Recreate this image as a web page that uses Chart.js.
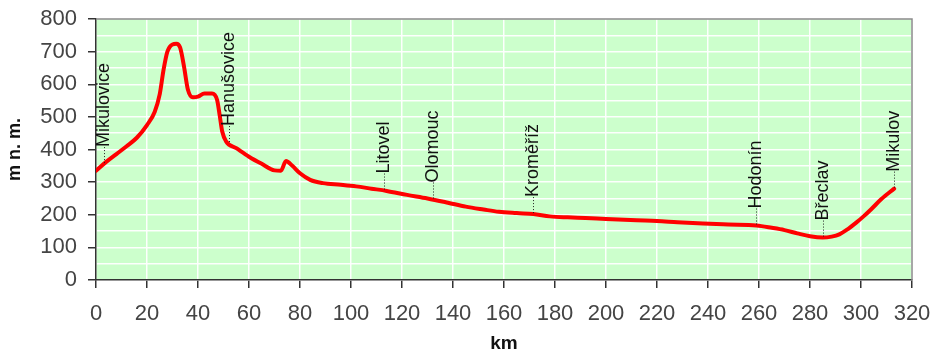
<!DOCTYPE html>
<html>
<head>
<meta charset="utf-8">
<title>Výškový profil</title>
<script src="https://cdn.jsdelivr.net/npm/chart.js@4/dist/chart.umd.min.js"></script>
<style>
  html, body { margin: 0; padding: 0; background: #ffffff; }
  canvas { display: block; }
</style>
</head>
<body>
<canvas id="profile" width="935" height="353"></canvas>
<script>
// Distance along the route (km) and elevation above sea level (m n. m.)
const km = [
  0, 4, 8, 12, 16, 20, 23, 25, 26.5, 28, 30, 31.5, 33, 34.5, 36, 38, 40, 42.5,
  45.5, 47.5, 48.5, 49.5, 51, 55, 60, 65, 70, 72.5, 74.5, 77, 80, 84, 89, 96,
  102, 108, 114, 122, 130, 138, 145, 152, 158, 165, 171.5, 178, 185, 192, 200,
  212, 220, 228, 238, 248, 259, 265, 270, 275, 280, 285, 288.5, 291.5, 295,
  298, 301, 304, 308, 313
];
const elevation = [
  335, 362, 386, 410, 436, 475, 515, 570, 645, 700, 722, 724, 712, 655, 585,
  560, 562, 572, 572, 552, 505, 455, 425, 404, 378, 356, 336, 335, 365, 350,
  327, 307, 297, 292, 287, 280, 273, 261, 250, 237, 225, 216, 209, 205, 202,
  195, 192, 190, 187, 183, 181, 177, 173, 170, 167, 160, 153, 143, 134, 130,
  133, 140, 157, 175, 195, 217, 248, 280
];

// Towns along the route and their position (km)
const placeNames = ['Mikulovice', 'Hanušovice', 'Litovel', 'Olomouc', 'Kroměříž', 'Hodonín', 'Břeclav', 'Mikulov'];
const placeKm = [3, 52, 113, 132, 171.5, 259, 285, 313];

// Axis ranges and tick steps
const xRange = [0, 320];
const xStep = 20;
const yRange = [0, 800];
const yGridStep = 50;
const yLabelStep = 100;

const FONT = '"Liberation Sans", Arial, Helvetica, sans-serif';

function elevationAt(d) {
  for (let i = 1; i < km.length; i++) {
    if (d <= km[i]) {
      const t = (d - km[i - 1]) / (km[i] - km[i - 1]);
      return elevation[i - 1] + t * (elevation[i] - elevation[i - 1]);
    }
  }
  return elevation[elevation.length - 1];
}

// Green plot background
const plotBackground = {
  id: 'plotBackground',
  beforeDraw(chart) {
    const { ctx, chartArea: a } = chart;
    ctx.save();
    ctx.fillStyle = '#ccffcc';
    ctx.fillRect(a.left, a.top, a.right - a.left, a.bottom - a.top);
    ctx.restore();
  }
};

// Grey frame on the top and right sides of the plot
const plotFrame = {
  id: 'plotFrame',
  beforeDatasetsDraw(chart) {
    const { ctx, chartArea: a } = chart;
    ctx.save();
    ctx.strokeStyle = '#8a8a8a';
    ctx.lineWidth = 1.5;
    ctx.beginPath();
    ctx.moveTo(a.left, a.top);
    ctx.lineTo(a.right, a.top);
    ctx.lineTo(a.right, a.bottom);
    ctx.stroke();
    ctx.restore();
  }
};

// Town names with dotted leaders rising from the profile line
const placeLabels = {
  id: 'placeLabels',
  afterDatasetsDraw(chart) {
    const { ctx } = chart;
    const xs = chart.scales.x, ys = chart.scales.y;
    const leader = 17;
    ctx.save();
    ctx.font = '18px ' + FONT;
    ctx.fillStyle = '#111';
    ctx.strokeStyle = '#222';
    ctx.lineWidth = 1;
    placeNames.forEach((name, i) => {
      const x = Math.round(xs.getPixelForValue(placeKm[i])) + 0.5;
      const y = ys.getPixelForValue(elevationAt(placeKm[i]));
      ctx.setLineDash([1, 2]);
      ctx.beginPath();
      ctx.moveTo(x, y - 1);
      ctx.lineTo(x, y - leader);
      ctx.stroke();
      ctx.setLineDash([]);
      ctx.save();
      ctx.translate(x, y - leader);
      ctx.rotate(-Math.PI / 2);
      ctx.textAlign = 'left';
      ctx.textBaseline = 'middle';
      ctx.fillText(name, 0, 0);
      ctx.restore();
    });
    ctx.restore();
  }
};

const points = km.map((d, i) => ({ x: d, y: elevation[i] }));

new Chart(document.getElementById('profile'), {
  type: 'line',
  data: {
    datasets: [{
      data: points,
      borderColor: '#ff0000',
      borderWidth: 4,
      pointRadius: 0,
      fill: false,
      cubicInterpolationMode: 'monotone',
      borderCapStyle: 'round',
      borderJoinStyle: 'round'
    }]
  },
  options: {
    responsive: false,
    devicePixelRatio: 1,
    animation: false,
    layout: { padding: { top: 19, right: 23, left: 0, bottom: 0 } },
    plugins: {
      legend: { display: false },
      tooltip: { enabled: false }
    },
    scales: {
      x: {
        type: 'linear',
        min: xRange[0],
        max: xRange[1],
        afterFit(scale) {
          scale.height = 73;
          scale.paddingLeft = 0;
          scale.paddingRight = 0;
        },
        ticks: {
          stepSize: xStep,
          autoSkip: false,
          maxRotation: 0,
          padding: 13,
          color: '#444',
          font: { family: FONT, size: 22 }
        },
        grid: {
          color: 'rgba(255,255,255,0.95)',
          lineWidth: 1.5,
          tickLength: 8,
          tickColor: '#333'
        },
        border: { color: '#333', width: 1.5 },
        title: {
          display: true,
          text: 'km',
          color: '#111',
          padding: 0,
          font: { family: FONT, size: 19, weight: 'bold', lineHeight: 1 }
        }
      },
      y: {
        min: yRange[0],
        max: yRange[1],
        afterFit(scale) {
          scale.width = 96;
          scale.paddingTop = 0;
          scale.paddingBottom = 0;
        },
        ticks: {
          stepSize: yGridStep,
          autoSkip: false,
          padding: 11,
          color: '#444',
          font: { family: FONT, size: 22 },
          callback: v => (v % yLabelStep === 0 ? String(v) : '')
        },
        grid: {
          color: 'rgba(255,255,255,0.95)',
          lineWidth: 1.5,
          tickLength: 8,
          tickColor: c => (c.tick && c.tick.value % yLabelStep === 0 ? '#333' : 'rgba(0,0,0,0)')
        },
        border: { color: '#333', width: 1.5 },
        title: {
          display: true,
          text: 'm n. m.',
          color: '#111',
          padding: { top: 6, bottom: 0 },
          font: { family: FONT, size: 18, weight: 'bold', lineHeight: 1 }
        }
      }
    }
  },
  plugins: [plotBackground, plotFrame, placeLabels]
});
</script>
</body>
</html>
